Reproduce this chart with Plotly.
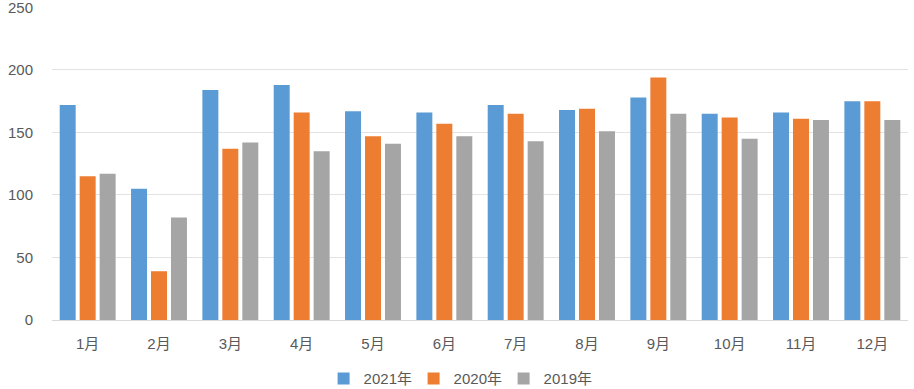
import plotly.graph_objects as go

months = ["1月", "2月", "3月", "4月", "5月", "6月", "7月", "8月", "9月", "10月", "11月", "12月"]
y2021 = [172, 105, 184, 188, 167, 166, 172, 168, 178, 165, 166, 175]
y2020 = [115, 39, 137, 166, 147, 157, 165, 169, 194, 162, 161, 175]
y2019 = [117, 82, 142, 135, 141, 147, 143, 151, 165, 145, 160, 160]
yticks = [0, 50, 100, 150, 200, 250]

font_family = "Liberation Sans, Arial, Noto Sans CJK SC, sans-serif"

fig = go.Figure()
for name, vals, color in [("2021年", y2021, "#5B9BD5"),
                          ("2020年", y2020, "#ED7D31"),
                          ("2019年", y2019, "#A5A5A5")]:
    fig.add_trace(go.Bar(x=months, y=vals, name=name,
                         marker=dict(color=color, line=dict(width=0))))

fig.update_layout(
    width=914, height=389,
    margin=dict(l=52, r=6, t=7, b=69, autoexpand=False),
    paper_bgcolor="white", plot_bgcolor="white",
    barmode="group", bargap=0.16, bargroupgap=0.2,
    font=dict(family=font_family, size=15, color="#595959"),
    showlegend=True,
    legend=dict(orientation="h", x=0.475, xanchor="center", y=-0.135, yanchor="top",
                font=dict(size=15, color="#595959"), itemwidth=30,
                entrywidth=45, entrywidthmode="pixels",
                traceorder="normal", itemsizing="constant"),
    xaxis=dict(showgrid=False, showline=True, linecolor="#D9D9D9", linewidth=1,
               ticks="", tickfont=dict(size=15), automargin=False,
               ticklabelstandoff=10),
    yaxis=dict(range=[0, 250.3], tickvals=yticks, showgrid=True, gridcolor="#E3E3E3",
               gridwidth=1, zeroline=False, showline=False, ticks="",
               tickfont=dict(size=15), ticklabelstandoff=18, automargin=False,
               ticklabeloverflow="allow"),
)

fig.write_html("out.html", config={"displayModeBar": False},
               post_script="document.body.style.margin='0';")
